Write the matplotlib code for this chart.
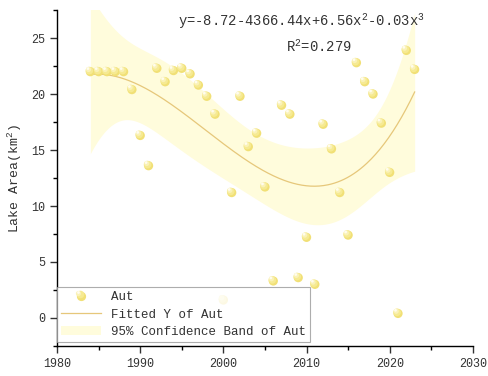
import numpy as np
import matplotlib
matplotlib.use("Agg")
import matplotlib.pyplot as plt
from matplotlib.lines import Line2D
from matplotlib.patches import Patch
from matplotlib.legend_handler import HandlerBase

plt.rcParams['font.family'] = ['Liberation Mono', 'DejaVu Sans']
plt.rcParams['mathtext.fontset'] = 'custom'
plt.rcParams['mathtext.rm'] = 'Liberation Mono'

years = np.arange(1984, 2024)
area = np.array([22.0, 22.0, 22.0, 22.0, 22.0, 20.4, 16.3, 13.6, 22.3, 21.1,
                 22.1, 22.3, 21.8, 20.8, 19.8, 18.2, 1.6, 11.2, 19.8, 15.3,
                 16.5, 11.7, 3.3, 19.0, 18.2, 3.6, 7.2, 3.0, 17.3, 15.1,
                 11.2, 7.4, 22.8, 21.1, 20.0, 17.4, 13.0, 0.4, 23.9, 22.2])

equation_text = "y=-8.72-4366.44x+6.56x$^{2}$-0.03x$^{3}$"
r2_text = "R$^{2}$=0.279"

# cubic least-squares fit and 95% confidence band of the mean
x0 = years - years.mean()
X = np.vander(x0, 4)
coef, *_ = np.linalg.lstsq(X, area, rcond=None)
resid = area - X @ coef
dof = len(area) - 4
s2 = resid @ resid / dof
cov = s2 * np.linalg.inv(X.T @ X)
xs = np.linspace(years.min(), years.max(), 300)
Xs = np.vander(xs - years.mean(), 4)
fit = Xs @ coef
se = np.sqrt(np.einsum('ij,jk,ik->i', Xs, cov, Xs))
t_crit = 2.028
lo, hi = fit - t_crit * se, fit + t_crit * se

fig = plt.figure(figsize=(4.88, 3.76), dpi=100)
ax = fig.add_axes([0.117, 0.080, 0.852, 0.893])

band_color = '#FFFCDC'
line_color = '#E6C77A'
# sphere shading layers: base, lighter body, highlight
sphere_layers = [
    (44, '#F1E076', 0.0, 0.0),
    (30, '#F6EA92', -0.12, 0.10),
    (14, '#FAF2B8', -0.22, 0.20),
    (4, '#FFFCEE', -0.30, 0.28),
]

ax.fill_between(xs, lo, hi, color=band_color, lw=0, zorder=1)
ax.plot(xs, fit, color=line_color, lw=0.9, zorder=2)
for k, (size, col, dx, dy) in enumerate(sphere_layers):
    ax.scatter(years + dx, area + dy, s=size, color=col, edgecolors='none', zorder=3 + k)

ax.set_xlim(1980, 2030)
ax.set_ylim(-2.5, 27.5)
ax.set_xticks(np.arange(1980, 2031, 10))
ax.set_xticks(np.arange(1985, 2030, 10), minor=True)
ax.set_yticks(np.arange(0, 26, 5))
ax.set_yticks(np.arange(-2.5, 27.6, 5), minor=True)
for side in ('top', 'right'):
    ax.spines[side].set_visible(False)
for side in ('left', 'bottom'):
    ax.spines[side].set_linewidth(1.0)
ax.tick_params(which='major', direction='out', length=5, width=1.0, labelsize=8.5, colors='#333333')
ax.tick_params(which='minor', direction='out', length=3, width=1.0)
ax.set_ylabel("Lake Area(km$^{2}$)", fontsize=9.5, color='#333333', labelpad=5)

ax.text(2009.4, 26.5, equation_text, ha='center', va='center', fontsize=10, color='#333333')
ax.text(2011.5, 24.2, r2_text, ha='center', va='center', fontsize=10, color='#333333')


class SphereHandler(HandlerBase):
    def create_artists(self, legend, orig_handle, xdescent, ydescent,
                       width, height, fontsize, trans):
        cx = 0.5 * width - xdescent
        cy = 0.5 * height - ydescent
        arts = []
        for size, col, dx, dy in sphere_layers:
            ms = np.sqrt(size)
            ln = Line2D([cx + dx * 8], [cy + dy * 8], marker='o', ls='none',
                        markersize=ms, markerfacecolor=col, markeredgecolor='none',
                        transform=trans)
            arts.append(ln)
        return arts


dot_handle = Line2D([], [], marker='o', ls='none')
handles = [
    dot_handle,
    Line2D([], [], color=line_color, lw=0.9),
    Patch(facecolor=band_color, edgecolor='none'),
]
labels = ["Aut", "Fitted Y of Aut", "95% Confidence Band of Aut"]
leg = ax.legend(handles, labels, loc='lower left', bbox_to_anchor=(0.0, 0.012),
                borderaxespad=0, fontsize=9.0, frameon=True, fancybox=False,
                handlelength=3.2, handletextpad=0.8, labelspacing=0.45, borderpad=0.3,
                handler_map={dot_handle: SphereHandler()})
leg.get_frame().set_edgecolor('#999999')
leg.get_frame().set_linewidth(0.8)
for t in leg.get_texts():
    t.set_color('#333333')

fig.savefig("out.png", dpi=100)
